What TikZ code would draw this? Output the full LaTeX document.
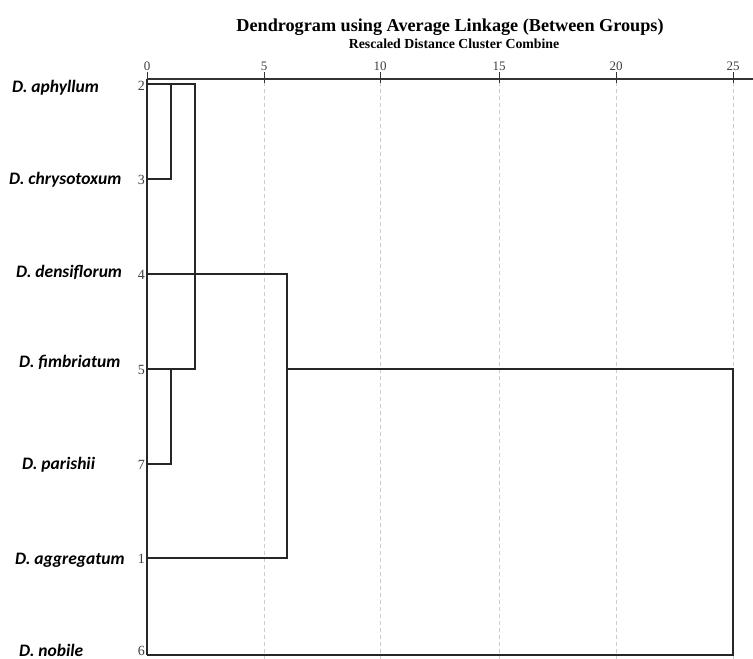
\documentclass[tikz,border=0pt]{standalone}
\usepackage{fontspec}
\setmainfont{Liberation Serif}
\newfontfamily\labfont{Carlito}
\begin{document}
\begin{tikzpicture}[x=1pt,y=-1pt,
  dline/.style={line width=1.4pt,draw=black!85},
  gridl/.style={dash pattern=on 4pt off 3pt,draw=black!20,line width=0.9pt},
  tickl/.style={line width=1pt,draw=black!80},
  ticklab/.style={font=\fontsize{13}{13}\selectfont,text=black!75,inner sep=0pt,anchor=south},
  rowno/.style={font=\fontsize{14}{14}\selectfont,text=black!75,inner sep=0pt,anchor=east},
  species/.style={font=\labfont\bfseries\itshape\fontsize{17.5}{18}\selectfont,inner sep=0pt,anchor=west}]
\useasboundingbox (0,0) rectangle (753,659);
\fill[white] (0,0) rectangle (753,659);

% titles
\node[font=\bfseries\fontsize{18.2}{19}\selectfont,inner sep=0pt] (title) at (450,27) {Dendrogram using Average Linkage (Between Groups)};
\node[font=\bfseries\fontsize{13.8}{14}\selectfont,inner sep=0pt] (sub) at (454,44) {Rescaled Distance Cluster Combine};

% grid and ticks
\foreach \v/\x in {5/264,10/380,15/499,20/616,25/733}{
  \draw[gridl] (\x,82) -- (\x,659);
}
\foreach \v/\x in {0/147,5/264,10/380,15/499,20/616,25/733}{
  \draw[tickl] (\x,72) -- (\x,83);
  \node[ticklab] (t\v) at (\x,71) {\v};
}
% axis frame
\draw[line width=1.3pt,draw=black!80] (147,79) -- (753,79);
\draw[dline] (147,79) -- (147,655);

% leaves: row numbers and coordinates
\node[rowno] (n2) at (145,86) {2};
\node[rowno] (n3) at (145,180) {3};
\node[rowno] (n4) at (145,275) {4};
\node[rowno] (n5) at (145,370) {5};
\node[rowno] (n7) at (145,465) {7};
\node[rowno] (n1) at (145,559) {1};
\node[rowno] (n6) at (145,651) {6};

\coordinate (l2) at (147,84);
\coordinate (l3) at (147,179);
\coordinate (l4) at (147,274);
\coordinate (l5) at (147,369);
\coordinate (l7) at (147,464);
\coordinate (l1) at (147,558);
\coordinate (l6) at (147,655);

% species names
\node[species] (s2) at (12,88) {D. aphyllum};
\node[species] (s3) at (9,180) {D. chrysotoxum};
\node[species] (s4) at (16,272) {D. densiflorum};
\node[species] (s5) at (19,362) {D. fimbriatum};
\node[species] (s7) at (22,465) {D. parishii};
\node[species] (s1) at (15,560) {D. aggregatum};
\node[species] (s6) at (19,650) {D. nobile};

% merge points
\coordinate (a) at (171,84);
\coordinate (b) at (171,179);
\coordinate (c) at (195,84);
\coordinate (d) at (195,369);
\coordinate (e) at (171,369);
\coordinate (f) at (171,464);
\coordinate (g) at (287,274);
\coordinate (h) at (287,558);
\coordinate (i) at (287,369);
\coordinate (j) at (733,369);
\coordinate (k) at (733,655);

% dendrogram
\draw[dline] (l2) -- (c) -- (d) -- (l5);
\draw[dline] (a) -- (b) -- (l3);
\draw[dline] (e) -- (f) -- (l7);
\draw[dline] (l4) -- (g) -- (h) -- (l1);
\draw[dline] (i) -- (j) -- (k) -- (l6);
\end{tikzpicture}
\end{document}
